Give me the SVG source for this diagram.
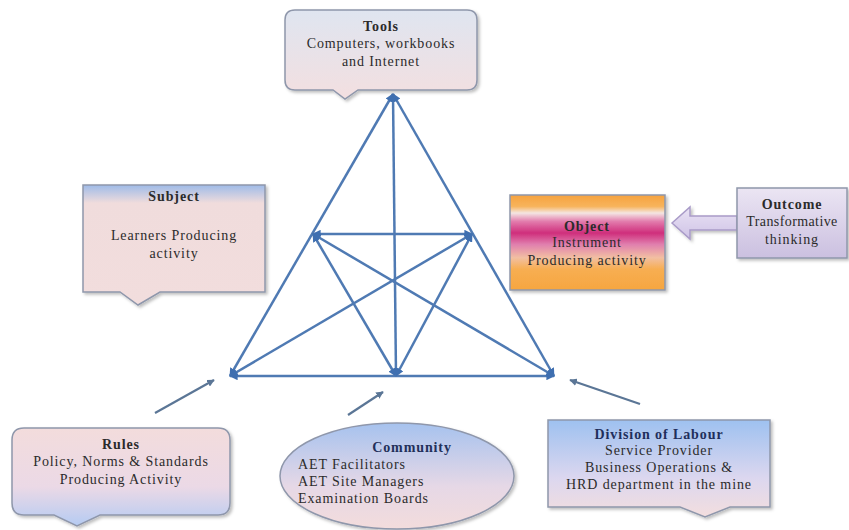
<svg xmlns="http://www.w3.org/2000/svg" width="849" height="530" viewBox="0 0 849 530">
<style>
  text { font-family: "Liberation Serif", "Times New Roman", serif; font-size: 14px; fill: #2b2b2b; text-anchor: middle; letter-spacing: 0.9px; }
  .t { font-weight: bold; }
  .box { stroke: #8f97ab; stroke-width: 1.5; }
  .edge { stroke: #4f7ab3; stroke-width: 2.5; fill: none; marker-start: url(#ah); marker-end: url(#ah); }
  .ptr { stroke: #5b7696; stroke-width: 2.2; fill: none; marker-end: url(#ah2); }
</style>
<defs>
  <marker id="ah" viewBox="0 0 10 10" refX="9" refY="5" markerWidth="3.4" markerHeight="3.4" orient="auto-start-reverse">
    <path d="M0,0 L10,5 L0,10 Z" fill="#3f6fb0"/>
  </marker>
  <marker id="ah2" viewBox="0 0 10 10" refX="9" refY="5" markerWidth="3.4" markerHeight="3.4" orient="auto">
    <path d="M0,0 L10,5 L0,10 Z" fill="#5b7696"/>
  </marker>
  <linearGradient id="gTools" x1="0" y1="0" x2="0" y2="1">
    <stop offset="0" stop-color="#dfe5f0"/>
    <stop offset="1" stop-color="#f3dfe0"/>
  </linearGradient>
  <linearGradient id="gSubject" x1="0" y1="0" x2="0" y2="1">
    <stop offset="0" stop-color="#9fbbe8"/>
    <stop offset="0.15" stop-color="#f0dcdc"/>
    <stop offset="1" stop-color="#f2dddd"/>
  </linearGradient>
  <linearGradient id="gObject" x1="0" y1="0" x2="0" y2="1">
    <stop offset="0" stop-color="#f6a23e"/>
    <stop offset="0.12" stop-color="#f7b45c"/>
    <stop offset="0.19" stop-color="#f4e6e2"/>
    <stop offset="0.28" stop-color="#e27aac"/>
    <stop offset="0.4" stop-color="#cf2f7c"/>
    <stop offset="0.52" stop-color="#e07fae"/>
    <stop offset="0.66" stop-color="#f2bfa2"/>
    <stop offset="0.78" stop-color="#f7ae52"/>
    <stop offset="1" stop-color="#f6a640"/>
  </linearGradient>
  <linearGradient id="gOutcome" x1="0" y1="0" x2="0" y2="1">
    <stop offset="0" stop-color="#ebe5f3"/>
    <stop offset="1" stop-color="#cbc0e0"/>
  </linearGradient>
  <linearGradient id="gArrow" x1="0" y1="0" x2="0" y2="1">
    <stop offset="0" stop-color="#e9e2f4"/>
    <stop offset="1" stop-color="#cfc3e6"/>
  </linearGradient>
  <linearGradient id="gRules" x1="0" y1="0" x2="0" y2="1">
    <stop offset="0" stop-color="#f3dcdc"/>
    <stop offset="0.6" stop-color="#ebd9e6"/>
    <stop offset="1" stop-color="#b5cbf2"/>
  </linearGradient>
  <linearGradient id="gCommunity" x1="0" y1="0" x2="0" y2="1">
    <stop offset="0" stop-color="#a6c2ee"/>
    <stop offset="0.6" stop-color="#e6d8e6"/>
    <stop offset="1" stop-color="#f3dcdc"/>
  </linearGradient>
  <linearGradient id="gDivision" x1="0" y1="0" x2="0" y2="1">
    <stop offset="0" stop-color="#9ec1f0"/>
    <stop offset="0.6" stop-color="#dcd7ef"/>
    <stop offset="1" stop-color="#f3dede"/>
  </linearGradient>
  <filter id="sh" x="-10%" y="-10%" width="125%" height="130%">
    <feDropShadow dx="2" dy="2" stdDeviation="1.5" flood-color="#000" flood-opacity="0.25"/>
  </filter>
</defs>

<g id="connectors">
  <line class="edge" x1="393" y1="94" x2="230" y2="376"/>
  <line class="edge" x1="393" y1="94" x2="554" y2="376"/>
  <line class="edge" x1="393" y1="94" x2="396" y2="376"/>
  <line class="edge" x1="230" y1="376" x2="554" y2="376"/>
  <line class="edge" x1="313" y1="234" x2="472" y2="234"/>
  <line class="edge" x1="313" y1="234" x2="396" y2="376"/>
  <line class="edge" x1="313" y1="234" x2="554" y2="376"/>
  <line class="edge" x1="472" y1="234" x2="396" y2="376"/>
  <line class="edge" x1="472" y1="234" x2="230" y2="376"/>
  <line class="ptr" x1="155" y1="413" x2="214" y2="380"/>
  <line class="ptr" x1="348" y1="415" x2="383" y2="392"/>
  <line class="ptr" x1="640" y1="404" x2="570" y2="380"/>
</g>

<g id="tools">
  <path class="box" filter="url(#sh)" fill="url(#gTools)" d="M295,10 H467 Q477,10 477,20 V80 Q477,90 467,90 H358 L345,99 L333,90 H295 Q285,90 285,80 V20 Q285,10 295,10 Z"/>
  <text class="t" x="381" y="31">Tools</text>
  <text x="381" y="48">Computers, workbooks</text>
  <text x="381" y="66">and Internet</text>
</g>

<g id="subject">
  <path class="box" filter="url(#sh)" fill="url(#gSubject)" d="M83,185 H265 V292 H160 L138,305 L120,292 H83 Z"/>
  <text class="t" x="174" y="201">Subject</text>
  <text x="174" y="240">Learners Producing</text>
  <text x="174" y="258">activity</text>
</g>

<g id="object">
  <rect class="box" filter="url(#sh)" fill="url(#gObject)" x="510" y="195" width="155" height="95" stroke="#b08a60"/>
  <text class="t" x="587" y="231">Object</text>
  <text x="587" y="247">Instrument</text>
  <text x="587" y="265">Producing activity</text>
</g>

<g id="outcome">
  <path filter="url(#sh)" fill="url(#gArrow)" stroke="#a99bc8" stroke-width="1.5" d="M672,223 L690,207 V216 H737 V230 H690 V239 Z"/>
  <rect class="box" filter="url(#sh)" fill="url(#gOutcome)" x="737" y="188" width="110" height="70"/>
  <text class="t" x="792" y="209">Outcome</text>
  <text x="792" y="226" style="letter-spacing:0.4px">Transformative</text>
  <text x="792" y="244">thinking</text>
</g>

<g id="rules">
  <path class="box" filter="url(#sh)" fill="url(#gRules)" d="M24,428 H218 Q230,428 230,440 V503 Q230,515 218,515 H100 L77,526 L54,515 H24 Q12,515 12,503 V440 Q12,428 24,428 Z"/>
  <text class="t" x="121" y="449">Rules</text>
  <text x="121" y="466">Policy, Norms &amp; Standards</text>
  <text x="121" y="484">Producing Activity</text>
</g>

<g id="community">
  <ellipse class="box" filter="url(#sh)" fill="url(#gCommunity)" cx="397" cy="476" rx="117" ry="53" stroke="#7f8fb5"/>
  <text class="t" x="412" y="452" style="fill:#23305a">Community</text>
  <text x="298" y="469" style="text-anchor:start">AET Facilitators</text>
  <text x="298" y="486" style="text-anchor:start">AET Site Managers</text>
  <text x="298" y="503" style="text-anchor:start">Examination Boards</text>
</g>

<g id="division">
  <path class="box" filter="url(#sh)" fill="url(#gDivision)" d="M548,420 H770 V507 H730 L705,517 L680,507 H548 Z"/>
  <text class="t" x="659" y="439" style="fill:#1f2f5c">Division of Labour</text>
  <text x="659" y="455">Service Provider</text>
  <text x="659" y="472">Business Operations &amp;</text>
  <text x="659" y="489">HRD department in the mine</text>
</g>
</svg>
